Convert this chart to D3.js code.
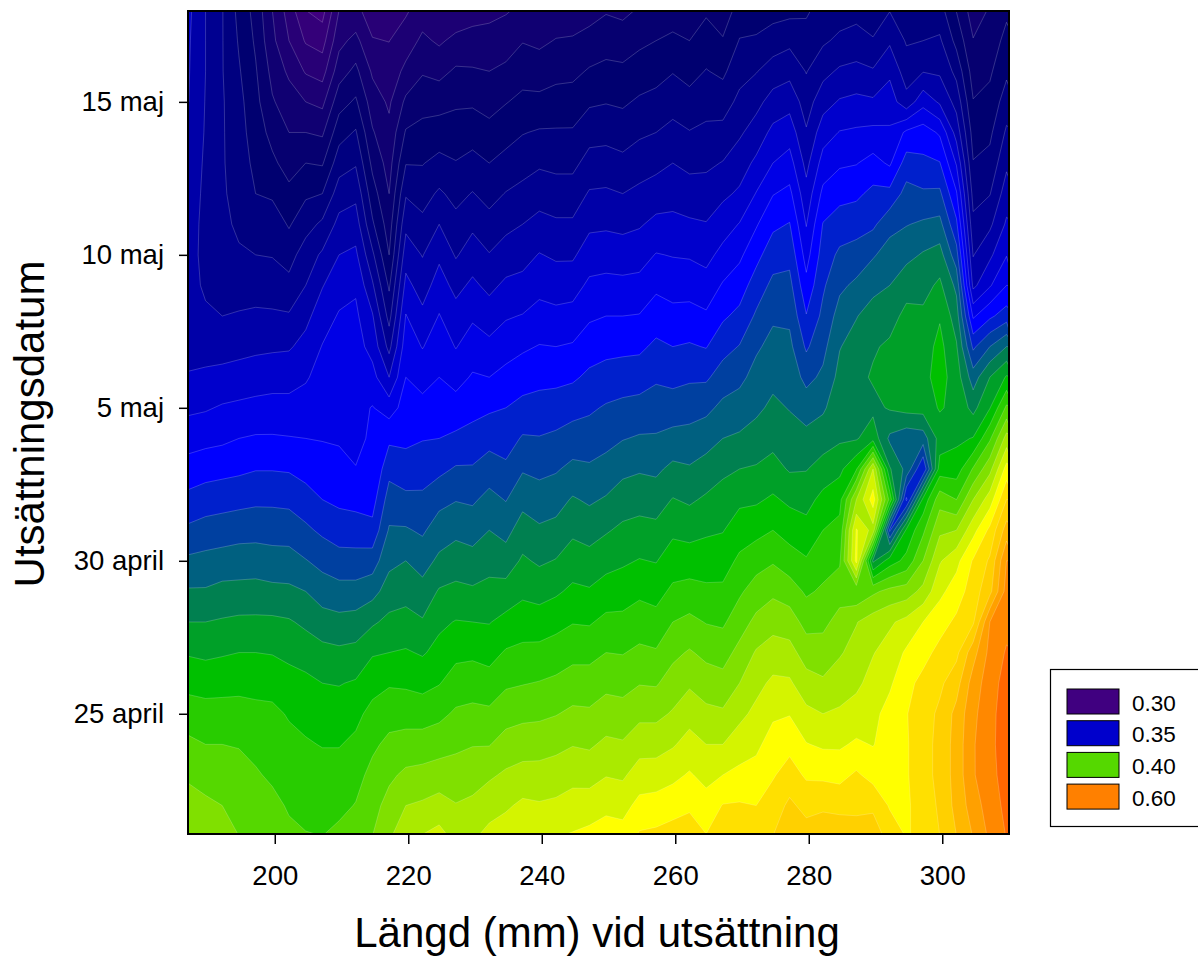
<!DOCTYPE html>
<html>
<head>
<meta charset="utf-8">
<script src="https://cdnjs.cloudflare.com/ajax/libs/d3/7.8.5/d3.min.js"></script>
<style>
body { margin: 0; background: #fff; }
text { font-family: "Liberation Sans", Arial, sans-serif; fill: #000; }
.tick text { font-size: 27.5px; }
.axis-title { font-size: 42px; }
.legend text { font-size: 22.5px; }
</style>
</head>
<body>
<script>
// days relative to 30 april, one row per day from the top of the plot down
var days = d3.range(18, -10, -1);
// length (mm) of each column, 2.5 mm apart
var lengths = d3.range(50).map(function(i) { return 187.13 + 2.5 * i; });

var dayTicks = [-5, 0, 5, 10, 15];
var dayLabels = ["25 april", "30 april", "5 maj", "10 maj", "15 maj"];
var lengthTicks = [200, 220, 240, 260, 280, 300];

var legendValues = ["0.30", "0.35", "0.40", "0.60"];
var legendColors = ["#400080", "#0000cc", "#55d800", "#ff8000"];

// contour levels, -1 is the lowest class
var levels = d3.range(-1, 30);
var levelColors = ["#400080", "#340079", "#280076", "#1c0074", "#100072", "#060070", "#000070",
  "#000080", "#000090", "#0000a8", "#0000cc", "#0000e6", "#0000ff", "#0020cc", "#0040a0",
  "#006080", "#008050", "#00a028", "#00c000", "#28cc00", "#55d800", "#80e000", "#aaea00",
  "#d4f400", "#ffff00", "#ffe000", "#ffd000", "#ffb800", "#ffa000", "#ff8800", "#ff6600"];

// one list per length, one value per day (top to bottom), in contour level units
var surfaceByLength = [
[9.2,9.1,9.05,9,8.9,8.8,8.7,8.6,8.5,8.45,8.4,8.6,9.1,9.8,10.6,11.4,12.3,13.2,14.2,15.1,16,16.9,17.7,18.5,19.2,19.8,20.5,21],
[8,8,8,7.95,7.9,7.8,7.7,7.6,7.6,7.8,8.2,8.6,9.2,9.9,10.7,11.6,12.5,13.4,14.3,15.1,16,16.8,17.6,18.4,19,19.6,20.2,20.7],
[7.05,7.05,7.05,7.1,7.1,7.1,7.15,7.2,7.3,7.6,8,8.6,9.3,10.1,10.8,11.7,12.6,13.5,14.4,15.3,16.1,16.9,17.65,18.4,19,19.45,20,20.4],
[5.7,5.9,6.1,6.3,6.4,6.5,6.6,6.85,7.1,7.5,8.1,8.7,9.4,10.2,11,11.8,12.7,13.6,14.5,15.3,16.2,17,17.7,18.4,18.95,19.3,19.6,20],
[4.65,4.85,5.1,5.3,5.5,5.75,6,6.45,7,7.5,8.2,8.8,9.5,10.3,11.1,11.95,12.8,13.65,14.5,15.35,16.2,17,17.65,18.3,18.75,19.1,19.35,19.6],
[3,3.25,3.7,4.1,4.7,5.2,5.85,6.55,6.95,7.5,8.15,8.85,9.6,10.35,11.1,11.95,12.8,13.6,14.4,15.25,16.2,16.95,17.6,18.25,18.5,18.85,19.25,19.5],
[1.55,2,2.8,3.5,4,4.6,5.25,5.9,6.6,7.3,8.1,8.9,9.6,10.35,11.05,11.9,12.75,13.55,14.4,15.2,16.1,16.75,17.4,17.9,18.3,18.6,18.9,19.2],
[0,0.9,1.9,3,4,5,5.85,6.6,7.5,8,8.75,9.3,9.9,10.4,11,11.65,12.4,13.2,14.05,15,15.8,16.55,17.25,17.7,18.1,18.45,18.75,19.05],
[-0.4,0.6,1.6,2.75,3.85,4.9,6,7.2,8.15,8.95,9.5,10.05,10.35,10.65,10.95,11.45,12,12.8,13.7,14.5,15.45,16.3,17,17.5,17.95,18.4,18.7,19],
[2,2.7,3.55,4.6,5.6,6.55,7.5,8.3,9,9.55,10.1,10.35,10.5,10.7,10.9,11.3,11.8,12.5,13.4,14.35,15.3,16.2,16.95,17.45,17.95,18.4,18.75,19.25],
[2.2,3.3,4.25,5.15,6.1,6.9,7.75,8.5,9.2,9.85,10.2,10.4,10.55,10.7,10.85,11.02,11.7,12.45,13.4,14.35,15.4,16.3,17.1,17.75,18.2,18.65,19.05,19.4],
[1.6,2.05,2.85,3.5,4.1,4.75,5.45,6.15,7.2,8.15,9.1,9.65,10.35,11.05,11.1,11.05,11.6,12.3,13.5,14.65,15.85,16.9,17.65,18.3,18.8,19.3,19.65,20],
[1.6,1.98,2.4,2.85,3.25,3.6,4,4.5,5,5.85,6.65,7.7,9,10.55,11.8,12.7,13.45,14.1,14.75,15.45,16.25,17,17.9,18.6,19.25,19.8,20.35,20.85],
[1.85,2.5,3.25,4.2,5.1,5.95,6.9,7.75,8.55,9.3,10.05,10.55,11,11.4,11.8,12.4,13.25,14.1,15,15.65,16.35,17.1,17.85,18.6,19.4,20.2,21,21.7],
[2.5,3.2,3.9,4.65,5.3,5.95,6.6,7.25,7.95,8.55,9.25,9.95,10.65,11.3,11.95,12.55,13.2,13.85,14.6,15.35,16.1,16.9,17.7,18.55,19.45,20.3,21.15,22.05],
[2.2,2.85,3.7,4.65,5.45,6.3,7.15,8,8.8,9.45,10.05,10.55,11,11.5,12,12.75,13.7,14.5,15.2,16.1,16.8,17.3,17.95,18.75,19.6,20.45,21.4,22.35],
[2.3,3.25,4.15,4.85,5.45,6.05,6.7,7.3,7.9,8.7,9.4,9.95,10.65,11.4,12.2,13.1,13.95,14.75,15.5,16.25,17.05,17.75,18.45,19.15,19.8,20.45,21.05,21.7],
[2.6,3.35,4.1,4.85,5.6,6.3,7.05,7.8,8.5,9.2,9.85,10.5,11.1,11.7,12.35,13.1,13.85,14.6,15.35,16.15,17,17.8,18.55,19.25,19.95,20.6,21.2,21.85],
[2.7,3.4,4,4.65,5.3,6,6.65,7.35,8.05,8.75,9.5,10.25,11,11.85,12.65,13.5,14.3,15,15.65,16.3,16.95,17.65,18.4,19.2,19.95,20.85,21.6,22.3],
[2.9,3.55,4.2,4.95,5.65,6.3,7.05,7.75,8.45,9.2,9.9,10.6,11.3,12,12.55,13.2,13.95,14.7,15.45,16.4,17.3,18.1,18.85,19.6,20.4,21.15,21.85,22.55],
[3.2,3.95,4.6,5.25,5.95,6.6,7.3,8,8.65,9.3,10.05,10.85,11.55,12.3,13.1,13.9,14.7,15.45,16.15,16.8,17.5,18.25,18.95,19.75,20.55,21.35,22.2,22.9],
[3.1,3.8,4.5,5.25,6.1,6.85,7.6,8.3,9.05,9.7,10.35,11.05,11.7,12.4,13.05,13.75,14.45,15.15,15.85,16.65,17.45,18.3,19.05,19.8,20.6,21.35,22.1,22.8],
[3.4,4.05,4.7,5.4,6.1,6.75,7.45,8.15,8.85,9.55,10.25,11,11.75,12.45,13.2,13.9,14.6,15.3,16.05,16.85,17.7,18.45,19.2,19.95,20.75,21.45,22.2,22.95],
[3.45,4.1,4.75,5.45,6.1,6.75,7.45,8.15,8.85,9.6,10.35,11.1,11.85,12.65,13.45,14.25,15.1,15.8,16.5,17.2,17.95,18.7,19.45,20.2,20.95,21.7,22.4,23.1],
[3.6,4.35,5.1,5.85,6.65,7.35,8.1,8.8,9.5,10.2,10.85,11.55,12.2,12.85,13.45,14.15,14.85,15.6,16.35,17.1,17.9,18.7,19.45,20.15,20.85,21.65,22.45,23.3],
[3.9,4.6,5.25,5.95,6.7,7.4,8.15,8.85,9.55,10.3,11,11.7,12.4,13.1,13.7,14.35,15.1,15.9,16.65,17.45,18.25,19,19.75,20.45,21.2,21.95,22.75,23.5],
[3.75,4.5,5.2,5.85,6.55,7.25,8,8.75,9.5,10.25,11,11.75,12.5,13.25,13.95,14.75,15.5,16.2,16.85,17.55,18.25,18.95,19.65,20.4,21.1,21.85,22.65,23.4],
[4.1,4.8,5.45,6.15,6.85,7.5,8.25,8.9,9.6,10.3,11.05,11.8,12.55,13.35,14.1,14.9,15.6,16.35,17.05,17.8,18.5,19.2,19.95,20.75,21.6,22.45,23.3,24.15],
[4.3,5,5.65,6.3,7,7.7,8.5,9.25,10.05,10.8,11.5,12.2,12.85,13.5,14.1,14.8,15.55,16.25,16.95,17.65,18.35,19.1,19.9,20.75,21.6,22.5,23.4,24.25],
[4.5,5.2,5.95,6.6,7.3,8,8.65,9.25,9.95,10.6,11.3,12,12.7,13.5,14.3,15.25,16.05,16.8,17.5,18.2,19,19.75,20.45,21.1,21.9,22.75,23.6,24.45],
[4.3,5,5.65,6.35,7.05,7.75,8.45,9.15,9.9,10.6,11.35,12.1,12.85,13.6,14.35,15.1,15.85,16.65,17.5,18.35,19.25,20.1,20.85,21.65,22.35,23.1,23.85,24.5],
[4.85,5.45,6.05,6.65,7.2,7.8,8.45,9.05,9.7,10.4,11.15,11.95,12.85,13.75,14.6,15.4,16.15,16.85,17.5,18.2,18.95,19.75,20.5,21.25,22,22.7,23.4,24.05],
[4.35,5.1,5.8,6.55,7.3,8.05,8.8,9.55,10.3,11.1,11.85,12.65,13.45,14.25,15,15.8,16.4,16.95,17.55,18.2,18.85,19.6,20.35,21.15,22,23,24.05,24.6],
[5.45,6.05,6.65,7.25,7.85,8.55,9.15,10.05,10.8,11.55,12.25,13.05,13.75,14.45,15.15,16,16.8,17.5,18.2,18.85,19.55,20.3,21,21.75,22.5,23.25,24.1,24.7],
[5.4,6.15,6.95,7.7,8.45,9.2,10.05,10.9,11.7,12.45,13.15,13.85,14.35,14.8,15.4,16.1,16.85,17.7,18.6,19.45,20.25,21.1,21.7,22.25,22.8,23.35,24,24.55],
[5.6,6.5,7.45,8.4,9.25,10,10.95,11.8,12.55,13.25,13.85,14.3,14.75,15.2,15.7,16.35,17.15,18,18.9,19.8,20.65,21.45,22.2,22.85,23.4,23.9,24.5,25],
[5.7,6.75,7.7,8.65,9.55,10.4,11.25,12.05,12.7,13.3,13.8,14.25,14.6,14.95,15.4,15.9,16.8,17.6,18.45,19.5,20.5,21.35,22.15,22.95,23.7,24.45,25.2,25.75],
[5.85,6.4,6.95,7.55,8.1,8.7,9.35,9.95,10.6,11.3,12.05,12.85,13.7,14.55,15.3,15.95,16.65,17.35,18.1,18.85,19.65,20.55,21.4,22.25,23.05,23.85,24.7,25.45],
[6.4,6.85,7.7,8.6,9.55,10.4,11.25,12.05,12.45,12.85,13.25,13.7,14.2,14.85,15.55,16.4,17.3,18,18.6,19.15,19.75,20.45,21.15,22,22.85,23.8,24.8,25.75],
[6.55,7.2,8.15,9.1,10.05,10.85,11.7,12.45,13.2,13.8,14.4,14.95,15.3,15.6,15.85,16.75,17.7,18.3,18.85,19.6,20.35,20.9,21.5,22.15,22.85,23.7,24.7,25.7],
[6.7,7.35,8.3,9.25,10.15,10.95,11.8,12.6,13.4,14.2,14.95,15.4,15.75,15.85,15.9,17.9,21,23.1,23.3,19.2,20.95,21.35,21.8,22.4,23.15,24.15,24.8,25.4],
[6.3,7.1,8.1,9.15,10.25,11.35,12.25,12.8,13.9,14.7,15.45,15.9,16.1,15.75,16.6,22,23.5,21.6,15.8,19.8,21.5,21.95,22.35,22.75,22.95,23.65,24.8,25.6],
[6.95,7.85,8.8,9.5,10.15,10.85,12.3,13.7,14.4,15,15.65,16.15,16.3,16.1,14.8,16.1,18.7,12.8,17.5,20.3,21.85,22.4,22.85,23.35,23.55,23.75,23.9,24.6],
[6.3,6.9,7.5,8.35,11.2,12.45,13.35,13.95,14.7,15.65,16.25,16.4,16.45,16.35,14.3,14.7,11.8,17.2,18.3,20.5,22.3,23.15,23.7,23.95,23.9,23.9,23.9,23.95],
[6.3,7,7.95,9.65,11.5,12.2,13.15,14.15,15.1,15.65,16.2,16.5,16.7,16.4,14.5,12,17.3,18.8,20,21.3,23,23.65,24.3,24.55,24.6,24.6,24.3,24.15],
[6.4,7.15,7.85,8.85,10.85,12.05,13.2,14.3,15.4,16.2,16.9,17.3,17.4,17.1,16.4,17.5,19.6,20.8,21.9,22.75,23.6,24.3,24.8,25.2,25.3,25.3,25.2,25],
[4.95,5.7,6.7,7.65,8.6,9.9,11.1,12.2,13.4,14.75,15.5,16.1,16.5,16.7,16.8,17.5,19,21,22.7,23.5,24.2,24.75,25.6,26.3,26.4,26.4,26.3,26],
[3.5,4.05,4.55,5.05,5.6,6.05,6.65,7.25,7.95,8.75,10.85,12.8,14.5,15.7,17.05,19.1,21,22.65,24.1,24.5,24.85,26.6,27.45,27.75,27.9,27.9,27.5,27.05],
[4.1,4.45,4.85,5.3,5.8,6.3,6.95,7.8,8.8,9.9,11.8,14,16,16.95,18.85,20.7,22.5,24.25,25.15,25.7,28,28.3,28.55,28.7,28.75,28.7,28.5,28.2],
[4.8,5.3,5.8,6.5,7.15,7.8,8.5,9.15,9.95,11,12.5,15,17.1,19.2,21.4,23.4,25,26.45,28,28.4,28.7,29.1,29.4,29.5,29.5,29.4,29.25,29.05]
];

var width = 1198, height = 956;
var plot = {left: 188, right: 1009, top: 11, bottom: 834};

var x = d3.scaleLinear().domain([187, 310]).range([plot.left, plot.right]);
var y = d3.scaleLinear().domain([-8.93, 17.97]).range([plot.bottom, plot.top]);

var svg = d3.select("body").append("svg")
    .attr("width", width)
    .attr("height", height);

svg.append("clipPath").attr("id", "plot-clip")
  .append("rect")
    .attr("x", plot.left)
    .attr("y", plot.top)
    .attr("width", plot.right - plot.left)
    .attr("height", plot.bottom - plot.top);

// d3.contours wants a flat row-major grid
var nx = lengths.length, ny = days.length;
var flat = [];
days.forEach(function(d, r) {
  lengths.forEach(function(l, c) { flat.push(surfaceByLength[c][r]); });
});

var contours = d3.contours().size([nx, ny]).thresholds(levels)(flat);

// grid nodes sit at i + 0.5 in contour coordinates
var gridX = d3.scaleLinear().domain([0.5, nx - 0.5]).range([x(lengths[0]), x(lengths[nx - 1])]);
var gridY = d3.scaleLinear().domain([0.5, ny - 0.5]).range([y(days[0]), y(days[ny - 1])]);

var path = d3.geoPath(d3.geoTransform({
  point: function(px, py) { this.stream.point(gridX(px), gridY(py)); }
}));

svg.append("g")
    .attr("clip-path", "url(#plot-clip)")
  .selectAll("path")
  .data(contours)
  .enter().append("path")
    .attr("d", path)
    .attr("fill", function(d) { return levelColors[levels.indexOf(d.value)]; })
    .attr("stroke", "#fff")
    .attr("stroke-opacity", 0.28)
    .attr("stroke-width", 0.7);

svg.append("rect")
    .attr("x", plot.left)
    .attr("y", plot.top)
    .attr("width", plot.right - plot.left)
    .attr("height", plot.bottom - plot.top)
    .attr("fill", "none")
    .attr("stroke", "#000")
    .attr("stroke-width", 2);

var xAxis = d3.axisBottom(x).tickValues(lengthTicks).tickSize(10).tickPadding(21);
var gx = svg.append("g")
    .attr("transform", "translate(0," + plot.bottom + ")")
    .call(xAxis);

var yAxis = d3.axisLeft(y).tickValues(dayTicks).tickSize(9).tickPadding(15)
    .tickFormat(function(d, i) { return dayLabels[i]; });
var gy = svg.append("g")
    .attr("transform", "translate(" + plot.left + ",0)")
    .call(yAxis);

[gx, gy].forEach(function(g) {
  g.select(".domain").remove();
  g.selectAll(".tick line").attr("stroke", "#000").attr("stroke-width", 1.5);
  g.selectAll(".tick text").attr("fill", "#000");
  g.attr("font-family", null).attr("font-size", null);
});

svg.append("text")
    .attr("class", "axis-title")
    .attr("x", 597)
    .attr("y", 947)
    .attr("text-anchor", "middle")
    .text("Längd (mm) vid utsättning");

svg.append("text")
    .attr("class", "axis-title")
    .attr("transform", "translate(44,424)rotate(-90)")
    .attr("text-anchor", "middle")
    .text("Utsättningsdatum");

var legend = svg.append("g").attr("class", "legend");
legend.append("rect")
    .attr("x", 1050.5)
    .attr("y", 669.5)
    .attr("width", 160)
    .attr("height", 157)
    .attr("fill", "#fff")
    .attr("stroke", "#000")
    .attr("stroke-width", 1.2);

var row = legend.selectAll("g.item")
  .data(legendValues)
  .enter().append("g")
    .attr("class", "item")
    .attr("transform", function(d, i) { return "translate(1067," + (689 + i * 31.7) + ")"; });

row.append("rect")
    .attr("width", 52)
    .attr("height", 25)
    .attr("fill", function(d, i) { return legendColors[i]; })
    .attr("stroke", "#000")
    .attr("stroke-width", 1);

row.append("text")
    .attr("x", 65)
    .attr("y", 21.5)
    .text(function(d) { return d; });
</script>
</body>
</html>
